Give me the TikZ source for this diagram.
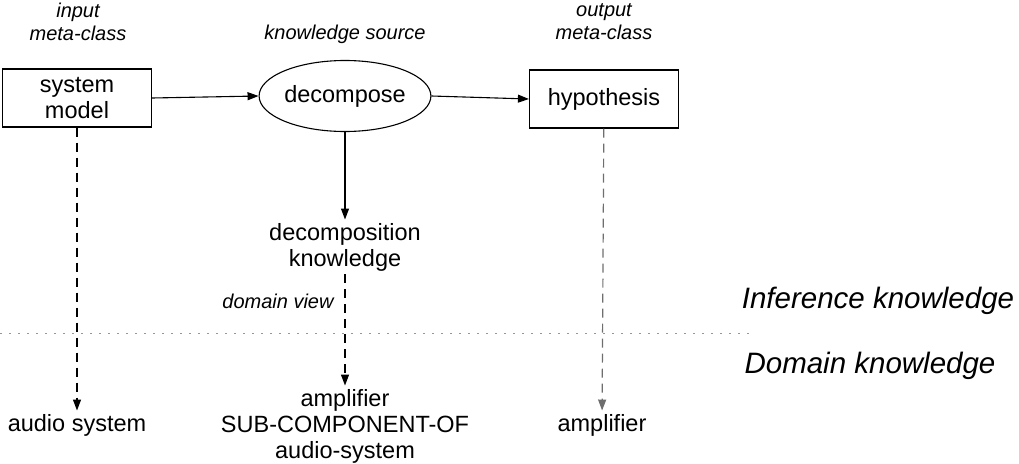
\documentclass[tikz,border=0pt]{standalone}
\usepackage{fontspec}
\setmainfont{Liberation Sans}
\usepackage{xcolor}
\usetikzlibrary{shapes,arrows,arrows.meta,positioning,calc}
\definecolor{sepgray}{RGB}{150,150,150}
\definecolor{viewgray}{RGB}{110,110,110}

\tikzset{
  box/.style={rectangle, draw, line width=1.2pt, minimum width=149pt, minimum height=58pt, align=center, font=\fontsize{23.5}{26}\selectfont},
  ks/.style={ellipse, draw, line width=1.1pt, minimum width=155pt, minimum height=71pt, inner sep=0pt, font=\fontsize{23.5}{26}\selectfont},
  txt/.style={align=center, font=\fontsize{23.5}{26}\selectfont},
  role/.style={align=center, font=\fontsize{20}{23}\selectfont\itshape},
  layer/.style={font=\fontsize{29.5}{32}\selectfont\itshape},
  flow/.style={-{Triangle[length=11pt,width=8pt]}, line width=1.1pt},
  view/.style={-{Triangle[length=11pt,width=8pt]}, line width=1.2pt, dash pattern=on 9pt off 6pt}
}

\begin{document}
\begin{tikzpicture}[x=1pt, y=-1pt]
				\useasboundingbox (0,0) rectangle (1019,463);
				
				\node[box] (model) at (77,98) {system\\model};
				\node[ks] (decomp) at (345,96) {decompose};
				\node[box] (hyp) at (604,99) {hypothesis};
				
				\node[role] (inlbl) at (78,22) {input\\meta-class};
				\node[role] (kslbl) at (345,34) {knowledge source};
				\node[role] (outlbl) at (604,22) {output\\meta-class};
				
				\node[txt] (dk) at (345,247) {decomposition\\knowledge};
				\node[role] (dview) at (278,301) {domain view};
				
				\node[txt] (audio) at (77,425) {audio system};
				\node[txt] (ampsub) at (345,426) {amplifier\\SUB-COMPONENT-OF\\audio-system};
				\node[txt] (amp) at (602,425) {amplifier};
				
				\node[layer] (inf) at (878,301) {Inference knowledge};
				\node[layer] (dom) at (870,366) {Domain knowledge};
				
				% border between the two layers
				\coordinate (sepL) at (0,333);
				\coordinate (sepR) at (755,333);
				\draw[sepgray, line width=1pt, dash pattern=on 1.5pt off 7.5pt] (sepL) -- (sepR);
				
				\draw[flow] (model.east) -- (decomp.west);
				\draw[flow] (decomp.east) -- (hyp.west);
				\draw[flow] (decomp) -- (dk);
				
				\draw[view] (model) -- (audio);
				\draw[view] (dk) -- (ampsub);
				\draw[view, viewgray] (hyp) -- (amp);
			\end{tikzpicture}
\end{document}
